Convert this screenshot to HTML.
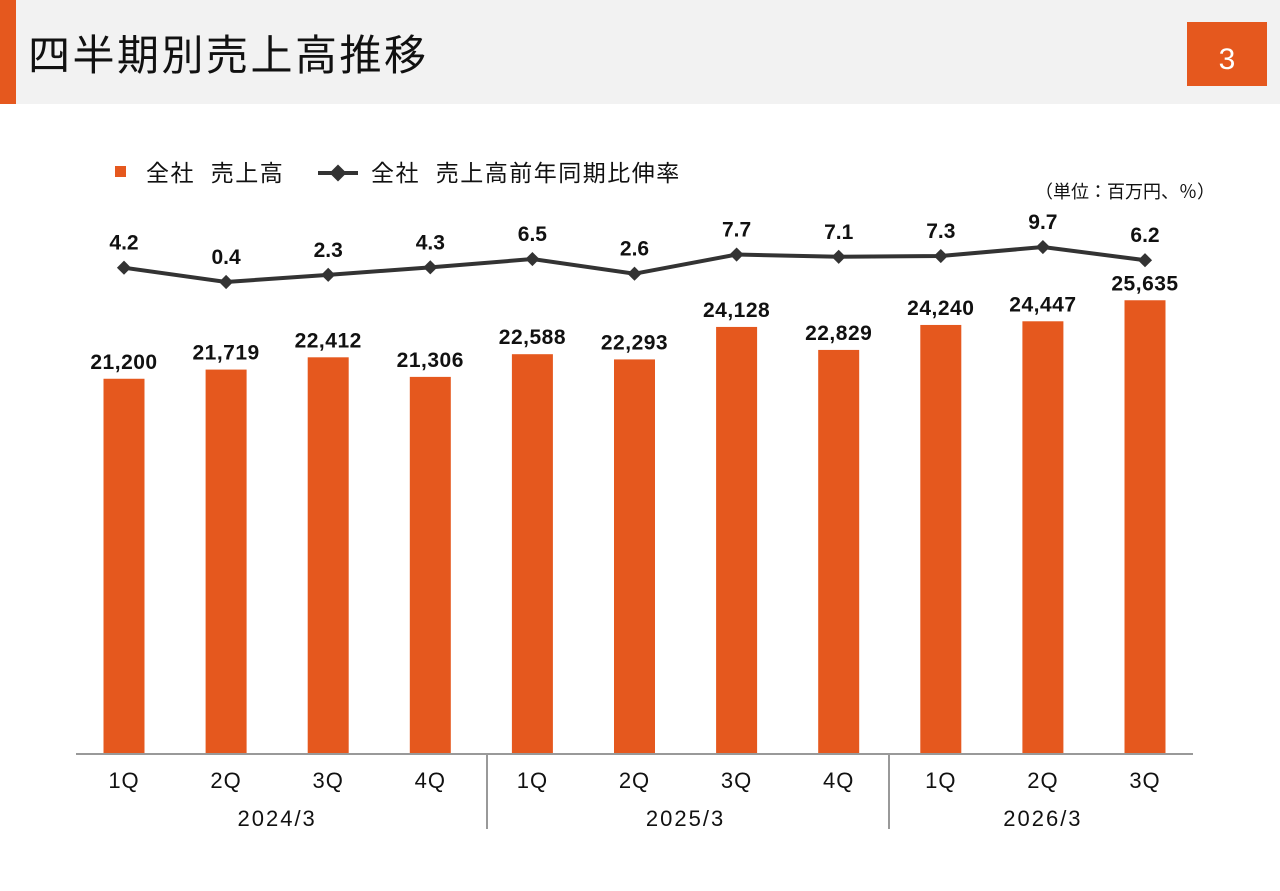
<!DOCTYPE html>
<html><head><meta charset="utf-8"><style>
body{margin:0;background:#fff;width:1280px;height:886px;overflow:hidden;font-family:"Liberation Sans","Noto Sans CJK JP",sans-serif;}
svg text{font-family:"Liberation Sans","Noto Sans CJK JP",sans-serif;}
</style></head><body>
<svg id="chart" width="1280" height="886">
<rect x="0" y="0" width="1280" height="104" fill="#f2f2f2"/>
<rect x="0" y="0" width="16" height="104" fill="#e5581e"/>
<text x="28" y="70" font-size="42" letter-spacing="2.5" fill="#111">四半期別売上高推移</text>
<rect x="1187" y="22" width="80" height="64" fill="#e5581e"/>
<text x="1227" y="69" font-size="30" fill="#fff" text-anchor="middle">3</text>
<rect x="115" y="166" width="11" height="11" fill="#e5581e"/>
<text x="146" y="181" font-size="23" letter-spacing="1.5" fill="#111" xml:space="preserve">全社  売上高</text>
<line x1="318" y1="173" x2="358" y2="173" stroke="#333" stroke-width="4"/>
<rect x="332" y="167" width="12" height="12" fill="#333" transform="rotate(45 338 173)"/>
<text x="371" y="181" font-size="23" letter-spacing="1.5" fill="#111" xml:space="preserve">全社  売上高前年同期比伸率</text>
<text x="1215" y="198" font-size="18" fill="#111" text-anchor="end">（単位：百万円、％）</text>
<g id="bars"></g><g id="line"></g><g id="labels"></g>
<line x1="76" y1="754" x2="1193" y2="754" stroke="#999" stroke-width="2"/>
<line x1="487" y1="754" x2="487" y2="829" stroke="#999" stroke-width="2"/>
<line x1="889" y1="754" x2="889" y2="829" stroke="#999" stroke-width="2"/>
<g id="xlabels"></g>
</svg>
<script>
const categories=["1Q","2Q","3Q","4Q","1Q","2Q","3Q","4Q","1Q","2Q","3Q"];
const years=["2024/3","2025/3","2026/3"];
const yearSpans=[[0,3],[4,7],[8,10]];
const sales=[21200,21719,22412,21306,22588,22293,24128,22829,24240,24447,25635];
const growth=[4.2,0.4,2.3,4.3,6.5,2.6,7.7,7.1,7.3,9.7,6.2];
const NS="http://www.w3.org/2000/svg";
const xC=i=>124+i*102.1;
const yBar=v=>754-v*0.0177;
const yLine=v=>283.5-v*3.76;
function mk(t,a,p){const e=document.createElementNS(NS,t);for(const k in a)e.setAttribute(k,a[k]);document.getElementById(p).appendChild(e);return e;}
const fmt=v=>v.toLocaleString("en-US");
sales.forEach((v,i)=>{
 const r=mk("rect",{x:xC(i)-20.5,y:yBar(v),width:41,height:754-yBar(v),fill:"#e5581e"},"bars");
 
 
 const t=mk("text",{x:xC(i),y:yBar(v)-10,"font-size":21,"font-weight":"bold","letter-spacing":0.5,fill:"#111","text-anchor":"middle"},"labels");
 t.textContent=fmt(v);
 
 
});
const pl=mk("polyline",{points:growth.map((v,i)=>xC(i)+","+yLine(v)).join(" "),fill:"none",stroke:"#333","stroke-width":4},"line");


growth.forEach((v,i)=>{
 const m=mk("rect",{x:xC(i)-5,y:yLine(v)-5,width:10,height:10,fill:"#333",transform:`rotate(45 ${xC(i)} ${yLine(v)})`},"line");
 
 
 const t=mk("text",{x:xC(i),y:yLine(v)-18,"font-size":21,"font-weight":"bold",fill:"#111","text-anchor":"middle"},"labels");
 t.textContent=v.toFixed(1);
 
 
});
categories.forEach((c,i)=>{
 const t=mk("text",{x:xC(i),y:788,"font-size":22,"letter-spacing":1,fill:"#111","text-anchor":"middle"},"xlabels");
 t.textContent=c;
 
 
});
years.forEach((y,j)=>{
 const t=mk("text",{x:(xC(yearSpans[j][0])+xC(yearSpans[j][1]))/2,y:826,"font-size":22,"letter-spacing":2,fill:"#111","text-anchor":"middle"},"xlabels");
 t.textContent=y;
 
 
});
</script>
</body></html>
